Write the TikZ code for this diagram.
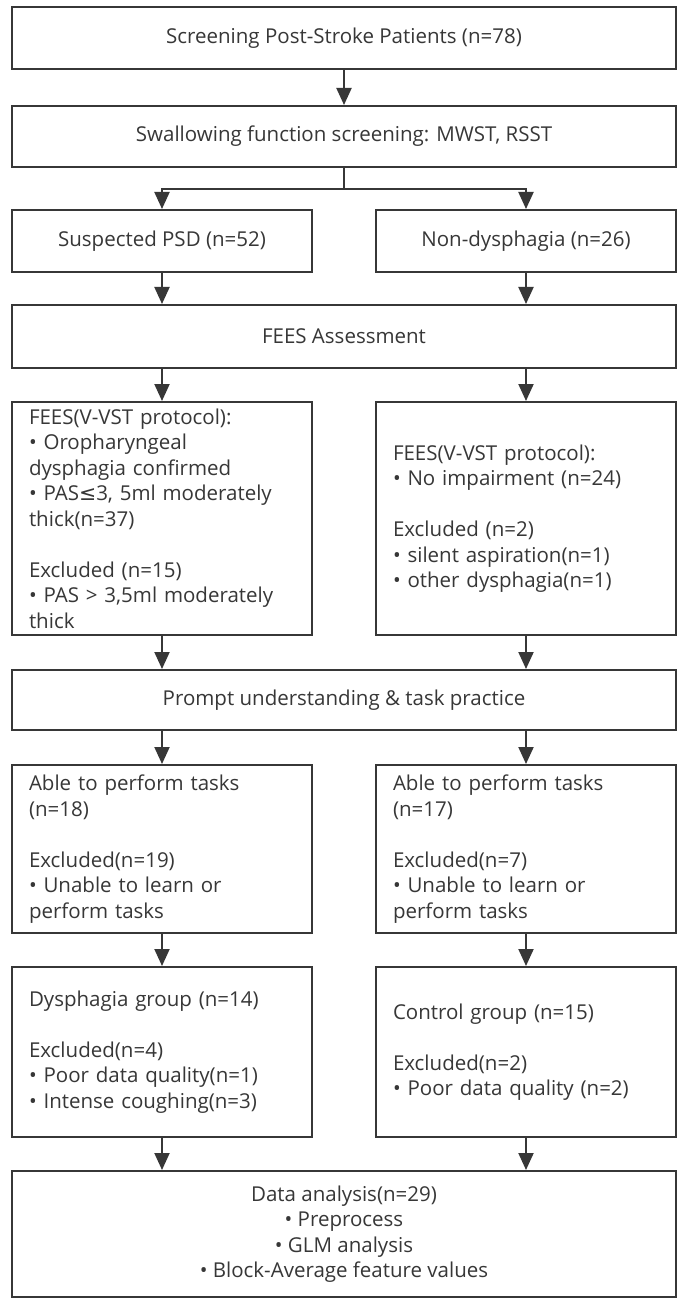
\documentclass[tikz,border=0pt]{standalone}
\usepackage{fontspec}
\setmainfont{Open Sans}
\newfontfamily\symfont{DejaVu Sans}
\usetikzlibrary{arrows.meta}
\definecolor{ink}{RGB}{55,55,55}
\begin{document}
\begin{tikzpicture}[x=1pt,y=-1pt,
  every node/.style={font=\fontsize{20.5}{25.5}\selectfont, text=ink},
  box/.style={draw=ink, line width=2pt, inner sep=0pt},
  wide/.style={box, minimum width=664pt, align=center},
  half/.style={box, minimum width=300pt, align=center},
  side/.style={box, text width=266pt, inner xsep=17pt, align=left},
  arr/.style={draw=ink, line width=2pt, -{Triangle[length=17pt,width=15pt]}},
  conn/.style={draw=ink, line width=2pt}]
\useasboundingbox (0,0) rectangle (683,1305);
\fill[white] (0,0) rectangle (683,1305);

\node[wide, minimum height=62pt] (b1) at (344,38) {Screening Post-Stroke Patients (n=78)};
\node[wide, minimum height=61pt] (b2) at (344,136.5) {Swallowing function screening: MWST, RSST};
\node[half, minimum height=62pt] (b3l) at (162,241) {Suspected PSD (n=52)};
\node[half, minimum height=62pt] (b3r) at (526,241) {Non-dysphagia (n=26)};
\node[wide, minimum height=63pt] (b4) at (344,336.5) {FEES Assessment};
\node[side, minimum height=233pt] (b5l) at (162,518.5) {\mbox{FEES(V-VST protocol):}\\ • Oropharyngeal\\ \mbox{dysphagia confirmed}\\ \mbox{• PAS{\symfont ≤}3, 5ml moderately}\\ thick(n=37)\\[25.5pt] Excluded (n=15)\\ \mbox{• PAS > 3,5ml moderately}\\ thick};
\node[side, minimum height=233pt] (b5r) at (526,518.5) {\mbox{FEES(V-VST protocol):}\\ \mbox{• No impairment (n=24)}\\[25.5pt] Excluded (n=2)\\ \mbox{• silent aspiration(n=1)}\\ \mbox{• other dysphagia(n=1)}};
\node[wide, minimum height=60pt] (b6) at (344,700) {Prompt understanding \& task practice};
\node[side, minimum height=168pt] (b7l) at (162,849) {\mbox{Able to perform tasks}\\ (n=18)\\[25.5pt] Excluded(n=19)\\ \mbox{• Unable to learn or}\\ perform tasks};
\node[side, minimum height=168pt] (b7r) at (526,849) {\mbox{Able to perform tasks}\\ (n=17)\\[25.5pt] Excluded(n=7)\\ \mbox{• Unable to learn or}\\ perform tasks};
\node[side, minimum height=170pt] (b8l) at (162,1052) {\mbox{Dysphagia group (n=14)}\\[25.5pt] Excluded(n=4)\\ \mbox{• Poor data quality(n=1)}\\ \mbox{• Intense coughing(n=3)}};
\node[side, minimum height=170pt] (b8r) at (526,1052) {\mbox{Control group (n=15)}\\[25.5pt] Excluded(n=2)\\ \mbox{• Poor data quality (n=2)}};
\node[wide, minimum height=126pt] (b9) at (344,1234) {Data analysis(n=29)\\ • Preprocess\\ • GLM analysis\\ • Block-Average feature values};

\coordinate (sp) at (344,189);
\draw[arr] (b1) -- (b2);
\draw[conn] (b2.south) -- (sp);
\draw[arr] (sp) -| (b3l.north);
\draw[arr] (sp) -| (b3r.north);
\draw[arr] (b3l.south) -- (b3l.south |- b4.north);
\draw[arr] (b3r.south) -- (b3r.south |- b4.north);
\draw[arr] (b5l.north |- b4.south) -- (b5l.north);
\draw[arr] (b5r.north |- b4.south) -- (b5r.north);
\draw[arr] (b5l.south) -- (b5l.south |- b6.north);
\draw[arr] (b5r.south) -- (b5r.south |- b6.north);
\draw[arr] (b7l.north |- b6.south) -- (b7l.north);
\draw[arr] (b7r.north |- b6.south) -- (b7r.north);
\draw[arr] (b7l) -- (b8l);
\draw[arr] (b7r) -- (b8r);
\draw[arr] (b8l.south) -- (b8l.south |- b9.north);
\draw[arr] (b8r.south) -- (b8r.south |- b9.north);
\end{tikzpicture}
\end{document}
